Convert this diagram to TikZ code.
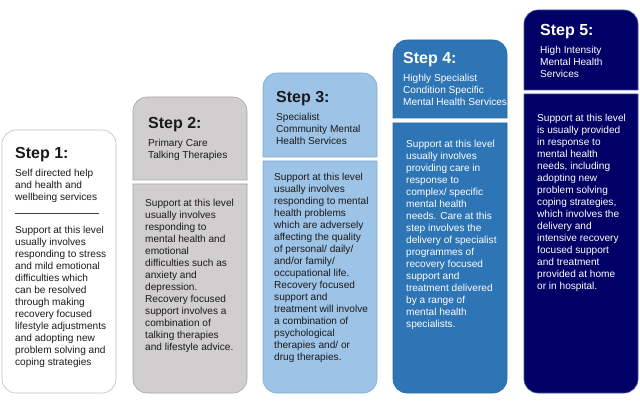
\documentclass[tikz,border=0pt]{standalone}
\usepackage{fontspec}
\setmainfont{Liberation Sans}
\definecolor{darktext}{HTML}{1A1A1A}
\definecolor{bxonefill}{HTML}{FFFFFF}
\definecolor{bxonedraw}{HTML}{BFBFBF}
\definecolor{bxtwofill}{HTML}{D0CECE}
\definecolor{bxtwodraw}{HTML}{A6A6A6}
\definecolor{bxthreefill}{HTML}{9DC3E6}
\definecolor{bxthreedraw}{HTML}{7FA7D2}
\definecolor{bxfourfill}{HTML}{2E75B6}
\definecolor{bxfourdraw}{HTML}{2868A3}
\definecolor{bxfivefill}{HTML}{000066}
\definecolor{bxfivedraw}{HTML}{4A5AA8}
\newcommand\steplines[1]{\begin{tabular}[t]{@{}l@{}}#1\end{tabular}}
\tikzset{
  steptitle/.style={anchor=base west, inner sep=0pt, font=\fontsize{16}{19}\selectfont\bfseries},
  stepsub/.style={anchor=base west, inner sep=0pt, font=\fontsize{10.1}{11.8}\selectfont},
  stepbody/.style={anchor=base west, inner sep=0pt, font=\fontsize{10.1}{11.95}\selectfont},
  boxline/.style={line width=0.6pt}
}
\begin{document}
\begin{tikzpicture}[x=1pt,y=-1pt]
\useasboundingbox (0,0) rectangle (640,406);
% Step 1 box
\draw[boxline, draw=bxonedraw, fill=bxonefill, rounded corners=14pt] (2,130) rectangle (116,393);
\draw[line width=0.6pt, draw=black!75] (15,213) -- (99,213);
% Step 2
\draw[boxline, draw=bxtwodraw, fill=bxtwofill] (133,180) -- (133,111) arc[start angle=180, end angle=270, radius=14] -- (233,97) arc[start angle=270, end angle=360, radius=14] -- (247,180) -- cycle;
\draw[boxline, draw=bxtwodraw, fill=bxtwofill] (133,184) -- (247,184) -- (247,379) arc[start angle=0, end angle=90, radius=14] -- (147,393) arc[start angle=90, end angle=180, radius=14] -- cycle;
% Step 3
\draw[boxline, draw=bxthreedraw, fill=bxthreefill] (263,157) -- (263,87) arc[start angle=180, end angle=270, radius=14] -- (363,73) arc[start angle=270, end angle=360, radius=14] -- (377,157) -- cycle;
\draw[boxline, draw=bxthreedraw, fill=bxthreefill] (263,161) -- (377,161) -- (377,379) arc[start angle=0, end angle=90, radius=14] -- (277,393) arc[start angle=90, end angle=180, radius=14] -- cycle;
% Step 4
\draw[boxline, draw=bxfourdraw, fill=bxfourfill] (393,118) -- (393,54) arc[start angle=180, end angle=270, radius=14] -- (493,40) arc[start angle=270, end angle=360, radius=14] -- (507,118) -- cycle;
\draw[boxline, draw=bxfourdraw, fill=bxfourfill] (393,123) -- (507,123) -- (507,379) arc[start angle=0, end angle=90, radius=14] -- (407,393) arc[start angle=90, end angle=180, radius=14] -- cycle;
% Step 5
\draw[boxline, draw=bxfivedraw, fill=bxfivefill] (524,90) -- (524,24) arc[start angle=180, end angle=270, radius=14] -- (624,10) arc[start angle=270, end angle=360, radius=14] -- (638,90) -- cycle;
\draw[boxline, draw=bxfivedraw, fill=bxfivefill] (524,94) -- (638,94) -- (638,379) arc[start angle=0, end angle=90, radius=14] -- (538,393) arc[start angle=90, end angle=180, radius=14] -- cycle;

% Texts step 1
\node[steptitle, text=darktext] (t1) at (15,159) {Step 1:};
\node[stepsub, text=darktext] (s1) at (15,177) {\steplines{Self directed help\\and health and\\wellbeing services}};
\node[stepbody, text=darktext] (b1) at (15,234) {\steplines{Support at this level\\usually involves\\responding to stress\\and mild emotional\\difficulties which\\can be resolved\\through making\\recovery focused\\lifestyle adjustments\\and adopting new\\problem solving and\\coping strategies}};
% step 2
\node[steptitle, text=darktext] (t2) at (148,129) {Step 2:};
\node[stepsub, text=darktext] (s2) at (148,147) {\steplines{Primary Care\\Talking Therapies}};
\node[stepbody, text=darktext] (b2) at (145,207) {\steplines{Support at this level\\usually involves\\responding to\\mental health and\\emotional\\difficulties such as\\anxiety and\\depression.\\Recovery focused\\support involves a\\combination of\\talking therapies\\and lifestyle advice.}};
% step 3
\node[steptitle, text=darktext] (t3) at (276,103) {Step 3:};
\node[stepsub, text=darktext] (s3) at (276,121) {\steplines{Specialist\\Community Mental\\Health Services}};
\node[stepbody, text=darktext] (b3) at (274,181) {\steplines{Support at this level\\usually involves\\responding to mental\\health problems\\which are adversely\\affecting the quality\\of personal/ daily/\\and/or family/\\occupational life.\\Recovery focused\\support and\\treatment will involve\\a combination of\\psychological\\therapies and/ or\\drug therapies.}};
% step 4
\node[steptitle, text=white] (t4) at (403,64) {Step 4:};
\node[stepsub, text=white] (s4) at (403,82) {\steplines{Highly Specialist\\Condition Specific\\Mental Health Services}};
\node[stepbody, text=white] (b4) at (406,148) {\steplines{Support at this level\\usually involves\\providing care in\\response to\\complex/ specific\\mental health\\needs. Care at this\\step involves the\\delivery of specialist\\programmes of\\recovery focused\\support and\\treatment delivered\\by a range of\\mental health\\specialists.}};
% step 5
\node[steptitle, text=white] (t5) at (540,36) {Step 5:};
\node[stepsub, text=white] (s5) at (540,54) {\steplines{High Intensity\\Mental Health\\Services}};
\node[stepbody, text=white] (b5) at (537,122) {\steplines{Support at this level\\is usually provided\\in response to\\mental health\\needs, including\\adopting new\\problem solving\\coping strategies,\\which involves the\\delivery and\\intensive recovery\\focused support\\and treatment\\provided at home\\or in hospital.}};
\end{tikzpicture}
\end{document}
